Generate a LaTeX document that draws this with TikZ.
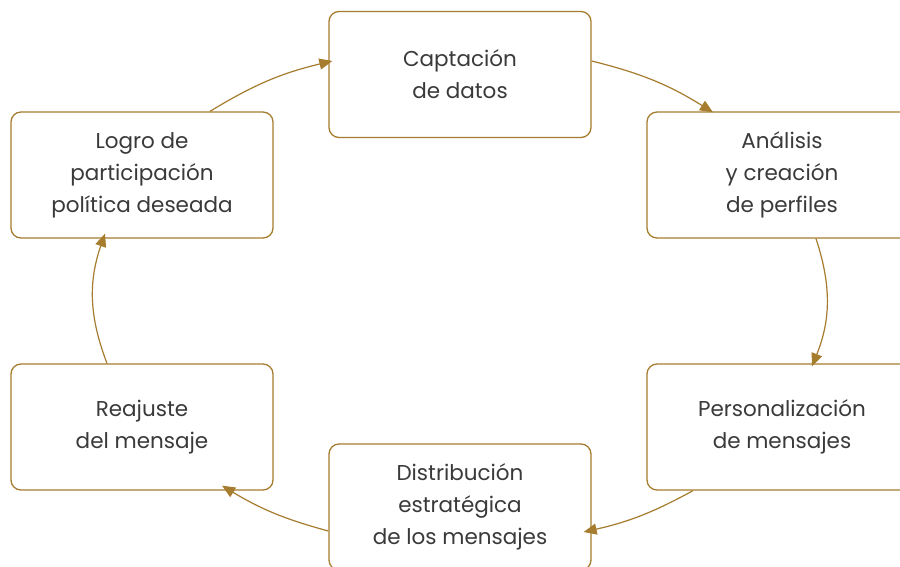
\documentclass[tikz,border=0pt]{standalone}
\usepackage{fontspec}
\setmainfont{Poppins}
\usetikzlibrary{arrows.meta}
\definecolor{gold}{RGB}{166,124,46}
\definecolor{txt}{RGB}{58,58,58}
\tikzset{
  stepbox/.style={draw=gold, line width=1.3pt, rounded corners=10pt, fill=white,
    minimum width=262pt, minimum height=126pt, inner sep=0pt, align=center,
    text=txt, font=\fontsize{21.5}{32}\selectfont},
  widebox/.style={stepbox, minimum width=270pt},
  flow/.style={draw=gold, line width=1.2pt, -{Triangle[length=13pt,width=11pt]}}
}
\begin{document}
\begin{tikzpicture}[x=1pt,y=1pt]
\useasboundingbox (0,0) rectangle (900,566);
\clip (0,0) rectangle (900,566);
\fill[white] (0,0) rectangle (900,566);
\node[stepbox] (capt) at (460,491.5) {Captación\\de datos};
\node[widebox] (anal) at (782,391) {Análisis\\y creación\\de perfiles};
\node[widebox] (pers) at (782,139) {Personalización\\de mensajes};
\node[stepbox] (dist) at (460,59) {Distribución\\estratégica\\de los mensajes};
\node[stepbox] (reaj) at (142,139) {Reajuste\\del mensaje};
\node[stepbox] (logro) at (142,391) {Logro de\\participación\\política deseada};
\draw[flow] ([yshift=13.5pt]capt.east) to[bend left=9] ([xshift=-69pt,yshift=-1pt]anal.north);
\draw[flow] ([xshift=34pt]anal.south) to[bend left=20] ([xshift=30pt,yshift=-3pt]pers.north);
\draw[flow] ([xshift=-89pt]pers.south) to[bend left=8] ([xshift=-8pt,yshift=-25pt]dist.east);
\draw[flow] ([yshift=-24pt]dist.west) to[bend left=8] ([xshift=80pt,yshift=5pt]reaj.south);
\draw[flow] ([xshift=-35pt]reaj.north) to[bend left=20] ([xshift=-37pt,yshift=5pt]logro.south);
\draw[flow] ([xshift=68pt]logro.north) to[bend left=9] ([xshift=4pt,yshift=13.5pt]capt.west);
\end{tikzpicture}
\end{document}
